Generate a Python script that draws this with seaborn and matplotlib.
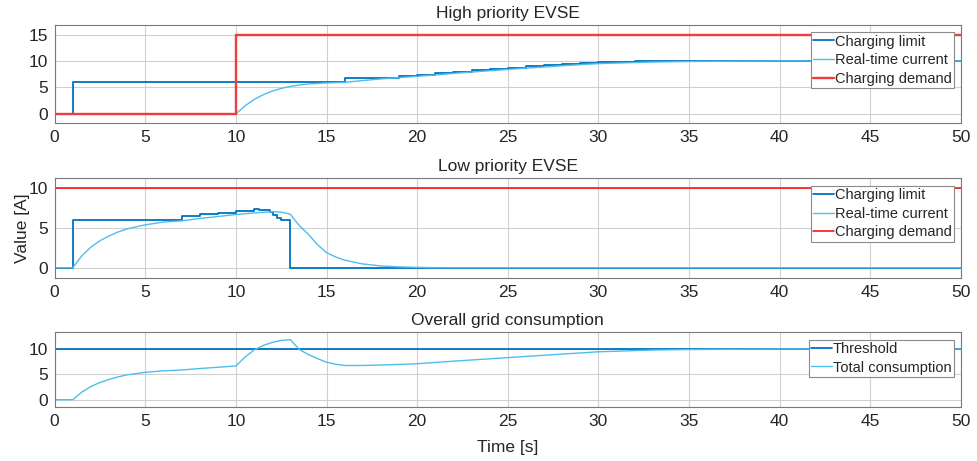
import matplotlib
matplotlib.use("Agg")
import matplotlib.pyplot as plt
import seaborn as sns

# ---- data ----
# high priority EVSE
hp_limit_t = [0, 1, 16, 19, 20, 21, 22, 23, 24, 25, 26, 27, 28, 29, 30, 31, 32, 33, 50]
hp_limit_v = [0, 6, 6.75, 7.1, 7.4, 7.7, 8.0, 8.25, 8.5, 8.75, 9.0, 9.2, 9.4, 9.6, 9.75, 9.85, 9.95, 10, 10]
hp_curr_t = [0, 10, 10.5, 11, 11.5, 12, 12.5, 13, 13.5, 14, 15, 16, 17, 18, 19, 20, 21, 22, 23, 24,
             25, 26, 27, 28, 29, 30, 31, 32, 33, 34, 35, 37, 40, 50]
hp_curr_v = [0, 0, 1.5, 2.7, 3.6, 4.3, 4.8, 5.2, 5.45, 5.65, 5.85, 5.95, 6.3, 6.6, 6.85, 7.1, 7.35, 7.65, 7.9, 8.15,
             8.4, 8.65, 8.85, 9.1, 9.3, 9.5, 9.6, 9.7, 9.8, 9.85, 9.9, 9.95, 10, 10]
hp_dem_t = [0, 10, 50]
hp_dem_v = [0, 15, 15]

# low priority EVSE
lp_limit_t = [0, 1, 7, 8, 9, 10, 11, 11.25, 11.9, 12.05, 12.25, 12.5, 13, 50]
lp_limit_v = [0, 6, 6.55, 6.75, 6.9, 7.2, 7.45, 7.3, 7.0, 6.65, 6.2, 6.0, 0, 0]
lp_curr_t = [0, 1, 1.5, 2, 2.5, 3, 3.5, 4, 5, 6, 7, 8, 9, 10, 11, 12, 12.5, 13,
             13.25, 13.5, 14, 14.5, 15, 15.5, 16, 17, 18, 19, 20, 21, 22, 50]
lp_curr_v = [0, 0, 1.5, 2.6, 3.4, 4.0, 4.5, 4.9, 5.4, 5.75, 5.9, 6.2, 6.45, 6.7, 6.9, 7.05, 7.0, 6.75,
             6.0, 5.3, 4.2, 2.9, 1.9, 1.35, 0.95, 0.47, 0.22, 0.1, 0.04, 0.01, 0, 0]
lp_dem_t = [0, 50]
lp_dem_v = [10, 10]

# overall grid
thr_t = [0, 50]
thr_v = [10, 10]
tot_t = [0, 1, 1.5, 2, 2.5, 3, 3.5, 4, 5, 6, 7, 8, 9, 10, 10.5, 11, 11.5, 12, 12.5, 13,
         13.5, 14, 14.5, 15, 15.5, 16, 17, 18, 19, 20, 22, 25, 28, 30, 33, 35, 40, 50]
tot_v = [0, 0, 1.5, 2.6, 3.4, 4.0, 4.5, 4.9, 5.4, 5.7, 5.85, 6.15, 6.4, 6.65, 8.4, 9.8, 10.7, 11.3, 11.7, 11.85,
         9.9, 8.9, 8.1, 7.4, 7.0, 6.75, 6.75, 6.85, 6.95, 7.1, 7.6, 8.3, 9.0, 9.45, 9.8, 9.9, 10, 10]

xticks = list(range(0, 51, 5))

C_LIM = "#0072BD"
C_CUR = "#4DBEEE"
C_RED = "#F03C3C"

sns.set_style("whitegrid", {"grid.color": "#d0d0d0", "axes.edgecolor": "#7a7a7a",
                            "xtick.direction": "in", "ytick.direction": "in"})
plt.rcParams["font.family"] = ["Liberation Sans", "DejaVu Sans"]
plt.rcParams["text.color"] = "#262626"
plt.rcParams["xtick.color"] = "#262626"
plt.rcParams["ytick.color"] = "#262626"

FS = 12.5

fig = plt.figure(figsize=(9.78, 4.61), dpi=100)
L, W = 0.0559, 0.9267
ax1 = fig.add_axes([L, 0.7325, W, 0.2132])
ax2 = fig.add_axes([L, 0.3976, W, 0.2156])
ax3 = fig.add_axes([L, 0.1165, W, 0.1627])


def line(ax, t, v, color, label, lw=1.2, steps=False):
    kw = {"drawstyle": "steps-post"} if steps else {}
    sns.lineplot(x=t, y=v, ax=ax, color=color, label=label, linewidth=lw,
                 estimator=None, sort=False, **kw)


line(ax1, hp_limit_t, hp_limit_v, C_LIM, "Charging limit", 1.3, steps=True)
line(ax1, hp_curr_t, hp_curr_v, C_CUR, "Real-time current", 1.0)
line(ax1, hp_dem_t, hp_dem_v, C_RED, "Charging demand", 1.7, steps=True)

line(ax2, lp_limit_t, lp_limit_v, C_LIM, "Charging limit", 1.3, steps=True)
line(ax2, lp_curr_t, lp_curr_v, C_CUR, "Real-time current", 1.0)
line(ax2, lp_dem_t, lp_dem_v, "#FF0000", "Charging demand", 1.1)

line(ax3, thr_t, thr_v, C_LIM, "Threshold", 1.3)
line(ax3, tot_t, tot_v, C_CUR, "Total consumption", 1.0)

ax1.set_ylim(-1.8, 16.8)
ax1.set_yticks([0, 5, 10, 15])
ax2.set_ylim(-1.26, 11.26)
ax2.set_yticks([0, 5, 10])
ax3.set_ylim(-1.5, 13.3)
ax3.set_yticks([0, 5, 10])

ax1.set_title("High priority EVSE", fontsize=FS, pad=5)
ax2.set_title("Low priority EVSE", fontsize=FS, pad=5)
ax3.set_title("Overall grid consumption", fontsize=FS, pad=5)
ax2.set_ylabel("Value [A]", fontsize=FS, labelpad=-1)
ax3.set_xlabel("Time [s]", fontsize=FS, labelpad=8)

for ax in (ax1, ax2, ax3):
    ax.set_xlim(0, 50)
    ax.set_xticks(xticks)
    ax.tick_params(labelsize=FS, length=3, width=0.6, color="#7a7a7a", pad=5)
    ax.grid(True, color="#d0d0d0", linewidth=0.8)
    for s in ax.spines.values():
        s.set_linewidth(0.8)
    if ax is not ax3:
        ax.set_xlabel("")
    leg = ax.legend(loc="upper right", fontsize=10.5, handlelength=1.45, handletextpad=0.05,
                    labelspacing=0.33, borderpad=0.15, borderaxespad=0.5, fancybox=False,
                    framealpha=1, edgecolor="#8a8a8a")
    leg.get_frame().set_linewidth(0.8)

fig.savefig("out.png", dpi=100)
